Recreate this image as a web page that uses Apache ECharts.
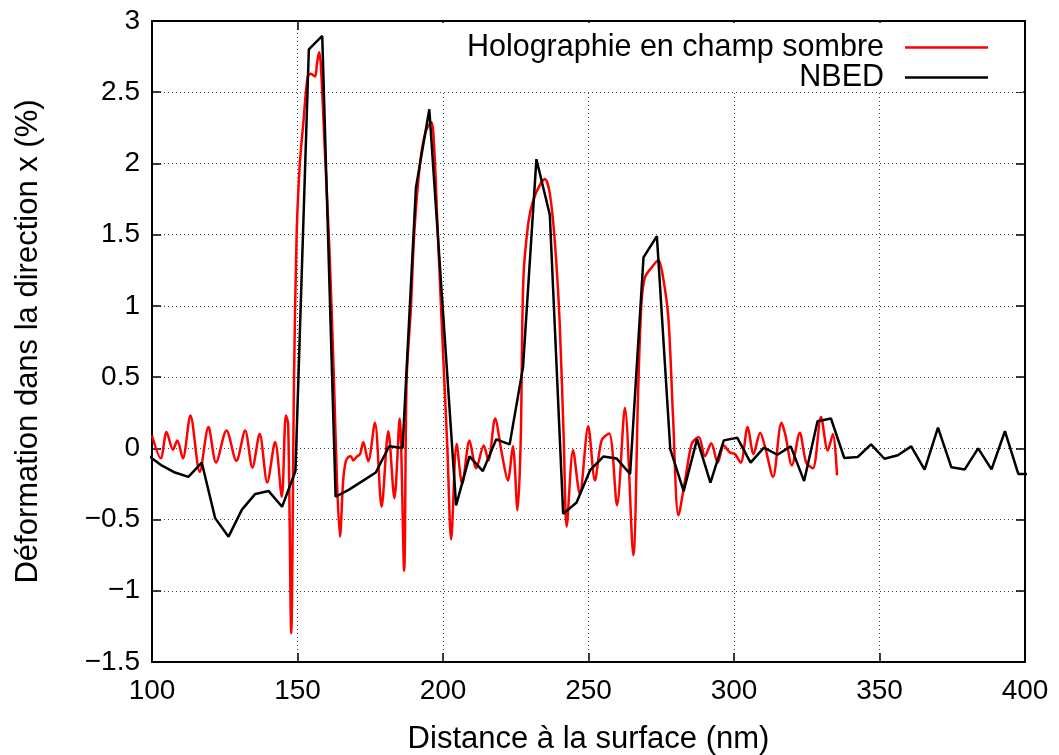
<!DOCTYPE html>
<html>
<head>
<meta charset="utf-8">
<script src="https://cdn.jsdelivr.net/npm/echarts@6/dist/echarts.min.js"></script>
<style>
html,body{margin:0;padding:0;background:#fff;}
#chart{width:1059px;height:755px;}
</style>
</head>
<body>
<div id="chart"></div>
<script>
// ---- Data ----
const xTicks = [100, 150, 200, 250, 300, 350, 400];
const yTicks = [-1.5, -1, -0.5, 0, 0.5, 1, 1.5, 2, 2.5, 3];

const seriesNames = ['Holographie en champ sombre', 'NBED'];

const holoX = [100.0, 103.0, 105.0, 107.2, 108.7, 110.6, 113.2, 116.4, 119.4, 122.0,
  125.6, 129.0, 132.0, 134.5, 137.0, 139.6, 142.3, 144.6, 146.0, 146.8,
  147.85, 148.8, 149.7, 150.8, 151.9, 153.5, 154.6, 156.0, 156.7, 157.4,
  158.0, 159.3, 161.0, 162.5, 163.6, 164.6, 165.7, 166.6, 167.5, 168.3,
  169.2, 170.3, 171.5, 172.6, 174.3, 176.6, 178.9, 181.2, 183.3, 185.1,
  186.65, 187.5, 189.0, 190.1, 192.1, 194.0, 196.0, 197.0, 197.9, 199.3,
  200.4, 201.5, 202.8, 204.7, 206.6, 209.1, 211.4, 214.0, 215.6, 217.9,
  220.2, 222.3, 224.0, 225.6, 226.7, 227.6, 229.3, 231.0, 233.3, 235.0,
  236.7, 238.4, 240.1, 241.5, 242.5, 244.7, 247.0, 249.9, 252.2, 254.5,
  257.1, 259.8, 262.5, 265.4, 267.1, 268.2, 269.4, 271.7, 274.0, 275.7,
  277.5, 279.1, 280.9, 283.4, 285.5, 287.9, 290.0, 292.2, 294.4, 296.5,
  298.6, 300.3, 302.3, 304.7, 306.7, 309.0, 310.7, 313.4, 316.3, 317.6,
  319.9, 322.6, 324.8, 327.1, 329.9, 332.2, 334.0, 335.4];
const holoY = [0.09, -0.07, 0.115, -0.01, 0.055, -0.07, 0.23, -0.165, 0.15, -0.10,
  0.125, -0.088, 0.125, -0.135, 0.10, -0.24, 0.045, -0.34, 0.23, 0.17,
  -1.30, 0.48, 1.5, 2.0, 2.26, 2.61, 2.63, 2.61, 2.70, 2.78,
  2.70, 2.13, 1.38, 0.5, -0.25, -0.62, -0.225, -0.09, -0.06, -0.055,
  -0.085, -0.06, -0.04, 0.045, -0.09, 0.18, -0.41, 0.12, -0.35, 0.21,
  -0.86, 0.48, 1.0, 1.5, 2.0, 2.22, 2.29, 2.1, 1.67, 1.0,
  0.5, 0.0, -0.64, 0.03, -0.25, 0.055, -0.14, 0.02, -0.085, 0.21,
  -0.035, -0.225, 0.017, -0.435, 0.05, 1.18, 1.58, 1.74, 1.85, 1.89,
  1.79, 1.46, 0.88, 0.056, -0.55, -0.014, -0.32, 0.155, -0.225, 0.056,
  0.105, -0.40, 0.285, -0.75, 0.43, 1.02, 1.20, 1.27, 1.32, 1.19,
  0.90, 0.197, -0.47, -0.2, 0.033, 0.08, -0.055, 0.035, -0.1, 0.02,
  -0.03, -0.04, -0.1, 0.15, -0.04, 0.11, 0.008, -0.2, 0.18, 0.10,
  -0.12, 0.11, -0.10, -0.14, 0.22, -0.015, 0.10, -0.19];

const nbedX = [98.7, 103.3, 107.9, 112.5, 117.1, 121.7, 126.3, 130.9, 135.5, 140.1,
  144.7, 149.3, 153.9, 158.5, 163.1, 167.7, 172.3, 176.9, 181.5, 186.1,
  190.7, 195.3, 199.9, 204.5, 209.1, 213.7, 218.3, 222.9, 227.5, 232.1,
  236.7, 241.3, 245.9, 250.5, 255.1, 259.7, 264.3, 268.9, 273.5, 278.1,
  282.7, 287.3, 291.9, 296.5, 301.1, 305.7, 310.3, 314.9, 319.5, 324.1,
  328.7, 333.3, 337.9, 342.5, 347.1, 351.7, 356.3, 360.9, 365.5, 370.1,
  374.7, 379.3, 383.9, 388.5, 393.1, 397.7, 402.3];
const nbedY = [-0.05, -0.12, -0.17, -0.20, -0.10, -0.49, -0.62, -0.43, -0.32, -0.30,
  -0.41, -0.16, 2.80, 2.895, -0.34, -0.29, -0.23, -0.17, 0.015, 0.002,
  1.83, 2.38, 0.99, -0.40, -0.056, -0.16, 0.063, 0.028, 0.57, 2.03,
  1.64, -0.46, -0.38, -0.155, -0.058, -0.072, -0.18, 1.34, 1.49, -0.005,
  -0.30, 0.065, -0.24, 0.056, 0.075, -0.10, 0.005, -0.045, 0.014, -0.23,
  0.19, 0.21, -0.068, -0.061, 0.028, -0.073, -0.049, 0.014, -0.15, 0.145,
  -0.133, -0.148, 0.0, -0.148, 0.12, -0.18, -0.18];

const zip = (xs, ys) => xs.map((x, i) => [x, ys[i]]);

const FONT = '"Liberation Sans", Arial, Helvetica, sans-serif';
const FS_TICK = 28;
const FS_XT = 31;
const FS_YT = 31;
const FS_LEG = 30.5;
const fmtNum = v => (v < 0 ? '\u2212' + String(Math.abs(v)) : String(v));

const gridDots = {show: true, lineStyle: {color: '#444', width: 1, type: [1, 3]}};
const axisLine = {show: true, onZero: false, lineStyle: {color: '#000', width: 2}};
const tick = {show: true, inside: true, length: 9, lineStyle: {color: '#000', width: 1.5}};

const chart = echarts.init(document.getElementById('chart'), null, {renderer: 'canvas'});
chart.setOption({
  animation: false,
  backgroundColor: '#fff',
  textStyle: {fontFamily: FONT},
  grid: {left: 152, right: 34, top: 21, bottom: 93, containLabel: false, outerBoundsMode: 'none'},
  xAxis: [{
    type: 'value', position: 'bottom',
    min: xTicks[0], max: xTicks[xTicks.length - 1], interval: xTicks[1] - xTicks[0],
    axisLine: axisLine, axisTick: tick,
    axisLabel: {color: '#000', fontSize: FS_TICK, fontFamily: FONT, margin: 15, formatter: fmtNum},
    splitLine: gridDots,
    name: 'Distance à la surface (nm)', nameLocation: 'middle', nameGap: 62,
    nameTextStyle: {color: '#000', fontSize: FS_XT, fontFamily: FONT}
  }, {
    type: 'value', position: 'top',
    min: xTicks[0], max: xTicks[xTicks.length - 1], interval: xTicks[1] - xTicks[0],
    axisLine: axisLine, axisTick: tick, axisLabel: {show: false}, splitLine: {show: false}
  }],
  yAxis: [{
    type: 'value', position: 'left',
    min: yTicks[0], max: yTicks[yTicks.length - 1], interval: 0.5,
    axisLine: axisLine, axisTick: tick,
    axisLabel: {color: '#000', fontSize: FS_TICK, fontFamily: FONT, margin: 12, formatter: fmtNum},
    splitLine: gridDots,
    name: 'Déformation dans la direction x (%)', nameLocation: 'middle', nameGap: 108, nameRotate: 90,
    nameTextStyle: {color: '#000', fontSize: FS_YT, fontFamily: FONT}
  }, {
    type: 'value', position: 'right',
    min: yTicks[0], max: yTicks[yTicks.length - 1], interval: 0.5,
    axisLine: axisLine, axisTick: tick, axisLabel: {show: false}, splitLine: {show: false}
  }],
  graphic: [{
    type: 'rect', z: 3, silent: true,
    shape: {x: 385, y: 23, width: 638, height: 69},
    style: {fill: '#fff'}
  }],
  legend: [{
    data: [seriesNames[0]], orient: 'vertical', align: 'right', right: 71, top: 32, padding: 0,
    itemWidth: 83, itemHeight: 2.5, icon: 'rect',
    textStyle: {color: '#000', fontSize: FS_LEG, fontFamily: FONT, padding: [0, 16, 0, 0]}
  }, {
    data: [seriesNames[1]], orient: 'vertical', align: 'right', right: 71, top: 62, padding: 0,
    itemWidth: 83, itemHeight: 2.5, icon: 'rect',
    textStyle: {color: '#000', fontSize: FS_LEG, fontFamily: FONT, padding: [0, 16, 0, 0]}
  }],
  series: [{
    name: seriesNames[0], type: 'line', xAxisIndex: 0, yAxisIndex: 0,
    data: zip(holoX, holoY), symbol: 'none', smooth: 0.3, clip: true,
    lineStyle: {color: '#ff0000', width: 2.5}, itemStyle: {color: '#ff0000'}, z: 2
  }, {
    name: seriesNames[1], type: 'line', xAxisIndex: 0, yAxisIndex: 0,
    data: zip(nbedX, nbedY), symbol: 'none', smooth: false, clip: true,
    lineStyle: {color: '#000', width: 2.5}, itemStyle: {color: '#000'}, z: 3
  }]
});
</script>
</body>
</html>
